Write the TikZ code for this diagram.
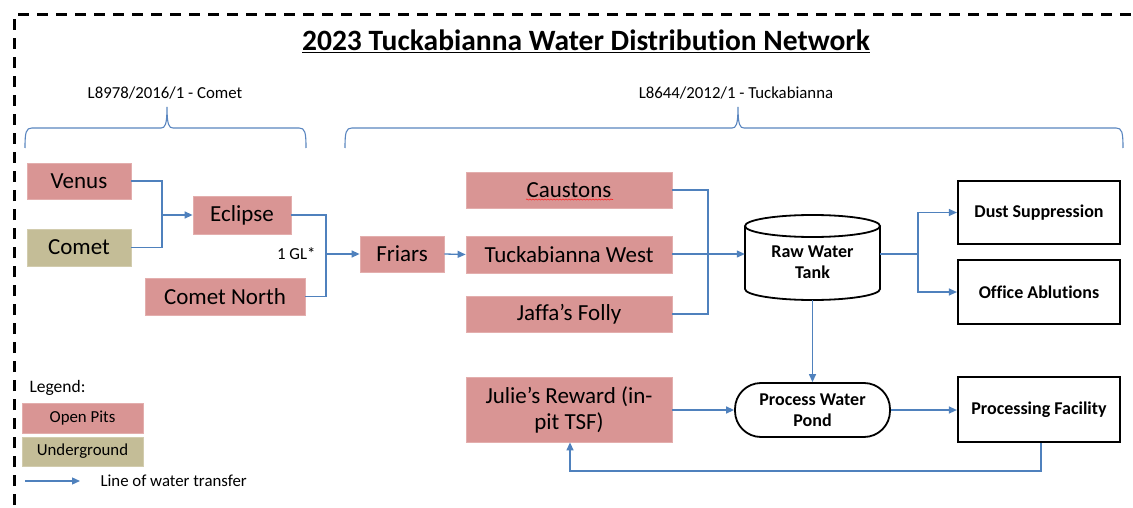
\documentclass[tikz,border=0pt]{standalone}
\usepackage{fontspec}
\setmainfont[Ligatures={NoCommon}]{Carlito}
\usetikzlibrary{arrows.meta,decorations.pathmorphing}
\definecolor{pitpink}{HTML}{D99594}
\definecolor{pitedge}{HTML}{E3AEAD}
\definecolor{ugolive}{HTML}{C4BD97}
\definecolor{ugedge}{HTML}{D2CCAE}
\definecolor{flowblue}{HTML}{4F81BD}
\definecolor{bracecol}{HTML}{5A86C0}
\begin{document}
\begin{tikzpicture}[x=1pt,y=-1pt,
  pit/.style={fill=pitpink,draw=pitedge,line width=0.8pt,inner sep=0pt,align=center,font=\fontsize{23}{26}\selectfont},
  ug/.style={fill=ugolive,draw=ugedge,line width=0.8pt,inner sep=0pt,align=center,font=\fontsize{23}{26}\selectfont},
  usebox/.style={draw=black,line width=2.2pt,inner sep=0pt,align=center,font=\bfseries\fontsize{18}{21}\selectfont},
  flow/.style={draw=flowblue,line width=1.3pt},
  flowarrow/.style={flow,-{Triangle[length=8pt,width=7pt]}},
  bracestyle/.style={draw=bracecol,line width=1.1pt},
  small/.style={font=\fontsize{16.8}{19}\selectfont},
  legbox/.style={inner sep=0pt,align=center,font=\fontsize{16.8}{19}\selectfont,minimum width=121pt}
]
\useasboundingbox (0,0) rectangle (1133,508);
\clip (0,0) rectangle (1133,508);
\fill[white] (0,0) rectangle (1133,508);

% dashed frame
\draw[line width=3pt,dash pattern=on 11pt off 8pt] (14,600) -- (14,15) -- (1200,15);

% title
\node[font=\bfseries\fontsize{29.5}{34}\selectfont] (title) at (586,41) {\underline{2023 Tuckabianna Water Distribution Network}};

% braces and labels
\node[small] (lblL) at (165,93) {L8978/2016/1 - Comet};
\node[small] (lblR) at (736,93) {L8644/2012/1 - Tuckabianna};
\draw[bracestyle] (25,148) .. controls (25,132) and (26,128) .. (32,128) -- (161,128)
  .. controls (165,128) and (167,125) .. (167,107)
  .. controls (167,125) and (169,128) .. (173,128) -- (299,128)
  .. controls (305,128) and (306,132) .. (306,148);
\draw[bracestyle] (345,148) .. controls (345,132) and (346,128) .. (352,128) -- (732,128)
  .. controls (736,128) and (738,125) .. (738,107)
  .. controls (738,125) and (740,128) .. (744,128) -- (1116,128)
  .. controls (1122,128) and (1123,132) .. (1123,148);

% pits
\node[pit,minimum width=104pt,minimum height=36pt] (venus) at (79,181) {Venus};
\node[ug,minimum width=104pt,minimum height=37pt] (comet) at (79,247.5) {Comet};
\node[pit,minimum width=98pt,minimum height=38pt] (eclipse) at (242,215) {Eclipse};
\node[pit,minimum width=160pt,minimum height=37pt] (cometn) at (225,296.5) {Comet North};
\node[pit,minimum width=84pt,minimum height=36pt] (friars) at (402,254) {Friars};
\node[pit,minimum width=206pt,minimum height=36pt] (caustons) at (569,190) {Caustons};
\node[pit,minimum width=206pt,minimum height=37pt] (tuckw) at (569,254.5) {Tuckabianna West};
\node[pit,minimum width=206pt,minimum height=36pt] (jaffa) at (569,314) {Jaffa’s Folly};
\node[pit,minimum width=206pt,minimum height=65pt] (julie) at (569,409.5) {Julie’s Reward (in-\\pit TSF)};
\draw[red!85,line width=0.6pt,decorate,decoration={snake,amplitude=0.6pt,segment length=3pt}]
  ([xshift=-43pt,yshift=-9.5pt]caustons.center) -- ([xshift=44pt,yshift=-9.5pt]caustons.center);

% raw water tank (cylinder)
\node[minimum width=135pt,minimum height=85pt,inner sep=0pt] (tank) at (812.5,257.5) {};
\draw[line width=1.8pt,fill=white] (745,226) -- (745,289) arc[start angle=180,end angle=0,x radius=67.5,y radius=11] -- (880,226);
\draw[line width=1.8pt,fill=white] (812.5,226) ellipse[x radius=67.5,y radius=11];
\node[font=\bfseries\fontsize{18}{21}\selectfont,align=center] (tanklabel) at (812.5,262) {Raw Water\\Tank};

% use boxes
\node[usebox,minimum width=162pt,minimum height=63pt] (dust) at (1039,212.5) {Dust Suppression};
\node[usebox,minimum width=162pt,minimum height=64pt] (office) at (1039,292) {Office Ablutions};
\node[usebox,minimum width=162pt,minimum height=65pt] (proc) at (1039,409.5) {Processing Facility};
\node[draw=black,line width=1.8pt,rounded corners=26pt,minimum width=155pt,minimum height=54pt,inner sep=0pt,align=center,font=\bfseries\fontsize{18}{21}\selectfont] (pond) at (812.5,410) {Process Water\\Pond};

% junctions
\coordinate (j1) at (162,215);
\coordinate (j2) at (326,254);
\coordinate (j3) at (708,254);
\coordinate (j4) at (918,254);
\coordinate (j6) at (570,471);

% connectors
\draw[flow] (venus.east) -| (j1);
\draw[flow] (comet.east) -| (j1);
\draw[flowarrow] (j1) -- (eclipse.west);
\draw[flow] (eclipse.east) -| (j2);
\draw[flow] (cometn.east) -| (j2);
\draw[flowarrow] (j2) -- (friars.west);
\node[small,anchor=east] (gl) at (319,254) {1 GL*};
\draw[flowarrow] (friars.east) -- (tuckw.west);
\draw[flow] (caustons.east) -| (j3);
\draw[flow] (jaffa.east) -| (j3);
\draw[flow] (tuckw.east |- j3) -- (j3);
\draw[flowarrow] (j3) -- (tank.west |- j3);
\draw[flow] (tank.east |- j4) -- (j4);
\draw[flowarrow] (j4) |- (dust.west);
\draw[flowarrow] (j4) |- (office.west);
\draw[flowarrow] (tank.south) -- (pond.north);
\draw[flowarrow] (julie.east |- pond.west) -- (pond.west);
\draw[flowarrow] (pond.east) -- (proc.west |- pond.east);
\draw[flowarrow] ([xshift=2pt]proc.south) |- (j6) -- (j6 |- julie.south);

% legend
\node[anchor=west,font=\fontsize{17.5}{20}\selectfont] (legtitle) at (26,388) {Legend:};
\node[legbox,fill=pitpink,draw=pitedge,minimum height=30pt] (legpit) at (82.5,418) {Open Pits};
\node[legbox,fill=ugolive,draw=ugedge,minimum height=29pt] (legug) at (82.5,451.5) {Underground};
\coordinate (legA) at (25,481);
\coordinate (legB) at (80,481);
\draw[flowarrow] (legA) -- (legB);
\node[small,anchor=west] (legtxt) at (97,481) {Line of water transfer};
\end{tikzpicture}
\end{document}
